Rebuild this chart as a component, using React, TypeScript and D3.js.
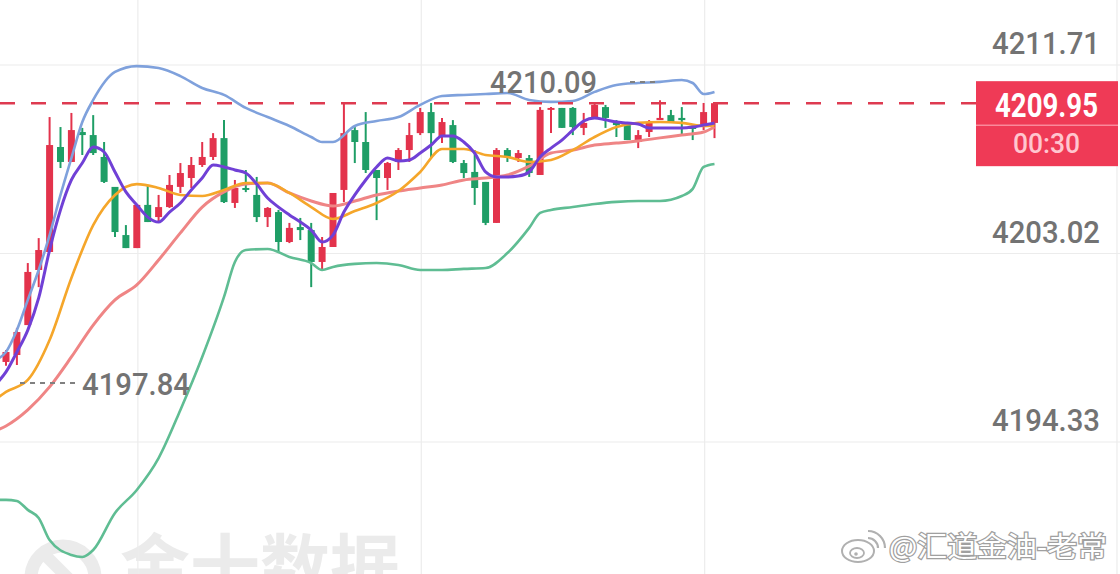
import React from "react";
import * as d3 from "d3";

const W = 1120;
const H = 574;

// OHLC per bar
const opens = [4198.02, 4198.34, 4199.72, 4202.26, 4203.09, 4207.93, 4207.24, 4208.62, 4208.48, 4207.47, 4206.09, 4203.87, 4203.27, 4205.26, 4204.70, 4205.16, 4206.09, 4206.50, 4207.10, 4207.47, 4208.34, 4205.35, 4206.04, 4205.72, 4204.70, 4204.93, 4203.55, 4204.24, 4204.10, 4202.63, 4203.32, 4205.95, 4208.71, 4208.16, 4206.87, 4206.50, 4207.24, 4207.79, 4208.57, 4209.54, 4208.39, 4208.94, 4207.19, 4206.78, 4206.32, 4204.43, 4207.79, 4207.42, 4207.42, 4206.64, 4209.64, 4209.73, 4209.73, 4208.81, 4209.31, 4209.77, 4209.08, 4208.94, 4208.16, 4208.62, 4209.17, 4209.40, 4209.27, 4208.85, 4208.85, 4209.04];
const highs = [4198.57, 4199.59, 4202.58, 4203.73, 4209.31, 4208.85, 4209.50, 4208.81, 4209.40, 4208.16, 4206.09, 4204.33, 4205.26, 4206.18, 4205.72, 4206.64, 4207.19, 4207.47, 4208.16, 4208.57, 4209.17, 4206.41, 4206.87, 4206.55, 4205.16, 4205.03, 4204.43, 4204.66, 4204.43, 4203.78, 4205.81, 4209.96, 4208.85, 4209.54, 4206.87, 4207.24, 4207.88, 4209.04, 4209.73, 4209.96, 4209.27, 4209.17, 4207.33, 4207.79, 4206.32, 4207.88, 4207.88, 4207.79, 4207.56, 4209.77, 4209.77, 4209.73, 4209.77, 4209.50, 4209.96, 4209.87, 4209.17, 4208.94, 4208.71, 4209.17, 4210.09, 4209.64, 4209.77, 4208.94, 4209.96, 4209.95];
const lows = [4197.84, 4197.88, 4199.72, 4201.47, 4203.09, 4206.96, 4207.24, 4207.56, 4207.56, 4206.27, 4203.78, 4203.27, 4203.27, 4204.47, 4204.43, 4205.12, 4205.81, 4206.04, 4207.01, 4207.33, 4205.35, 4205.12, 4205.85, 4204.47, 4204.24, 4203.09, 4203.50, 4203.64, 4201.47, 4202.26, 4203.32, 4205.39, 4207.19, 4206.73, 4204.56, 4205.95, 4206.87, 4207.24, 4208.48, 4207.42, 4208.11, 4207.19, 4206.50, 4205.26, 4204.33, 4204.43, 4207.24, 4207.24, 4206.55, 4206.64, 4208.57, 4208.81, 4208.48, 4208.48, 4209.31, 4208.81, 4208.39, 4208.25, 4207.88, 4208.39, 4209.17, 4209.04, 4208.48, 4208.25, 4208.71, 4208.34];
const closes = [4198.48, 4199.40, 4202.17, 4203.18, 4208.02, 4207.24, 4208.71, 4208.48, 4207.65, 4206.32, 4204.01, 4203.27, 4205.26, 4204.47, 4205.16, 4206.18, 4206.73, 4207.10, 4207.47, 4208.34, 4205.39, 4206.04, 4205.95, 4204.70, 4205.12, 4203.55, 4204.20, 4204.10, 4202.63, 4203.32, 4205.81, 4208.57, 4208.16, 4206.87, 4206.50, 4207.19, 4207.79, 4208.48, 4209.54, 4208.57, 4209.08, 4207.24, 4206.73, 4206.04, 4204.43, 4207.79, 4207.47, 4207.65, 4206.73, 4209.64, 4209.73, 4208.81, 4208.85, 4209.04, 4209.87, 4209.27, 4208.94, 4208.25, 4208.48, 4209.04, 4209.27, 4209.08, 4209.17, 4208.76, 4209.54, 4209.95];

const axisTicks = [4211.71, 4203.02, 4194.33];
const lastPrice = 4209.95;
const countdown = "00:30";
const highLabel = "4210.09";
const lowLabel = "4197.84";
const gridIdx = [12.1, 38.1, 64.1];

// moving average (purple) – one value per bar, starting one bar before the first
const purpleIdx = d3.range(-1, 66);
const purpleVals = [4196.96, 4197.56, 4198.48, 4199.49, 4200.97, 4203.18, 4205.03, 4206.41, 4207.19, 4207.93, 4207.70, 4206.78, 4205.86, 4205.26, 4204.70, 4204.47, 4204.93, 4205.35, 4205.95, 4206.50, 4207.10, 4207.01, 4206.87, 4206.73, 4206.22, 4205.58, 4205.16, 4204.80, 4204.47, 4204.10, 4203.55, 4203.87, 4204.93, 4205.72, 4206.41, 4207.01, 4207.42, 4207.29, 4207.33, 4207.65, 4208.02, 4208.44, 4208.44, 4208.16, 4207.65, 4206.78, 4206.55, 4206.55, 4206.59, 4206.78, 4207.47, 4207.88, 4208.25, 4208.71, 4209.13, 4209.27, 4209.18, 4209.08, 4209.04, 4208.99, 4208.81, 4208.81, 4208.81, 4208.81, 4208.85, 4208.94, 4209.04];

const evenIdx = [-1, ...d3.range(0, 65, 2), 65];
const orangeVals = [4196.27, 4196.64, 4197.19, 4199.03, 4201.89, 4204.33, 4205.72, 4206.22, 4206.04, 4205.72, 4205.67, 4205.95, 4206.27, 4206.27, 4205.81, 4205.16, 4204.61, 4204.98, 4205.35, 4205.90, 4206.78, 4207.84, 4207.84, 4207.56, 4207.47, 4207.24, 4207.33, 4207.79, 4208.39, 4208.85, 4209.04, 4209.08, 4209.04, 4208.90, 4208.94];
const pinkVals = [4194.84, 4195.07, 4195.81, 4196.87, 4198.25, 4199.72, 4200.88, 4201.57, 4202.72, 4203.97, 4205.16, 4205.86, 4206.22, 4206.27, 4205.81, 4205.44, 4205.21, 4205.44, 4205.72, 4205.90, 4206.04, 4206.18, 4206.41, 4206.50, 4206.64, 4207.05, 4207.65, 4207.79, 4208.02, 4208.11, 4208.21, 4208.35, 4208.48, 4208.62, 4208.85];

const blueIdx = [-1, 0, 1, 2, 3, 4, 5, 6, 7, 8, 10, 12, 14, 16, 18, 20, 22, 24, 26, 28, 29, 30, 32, 34, 36, 38, 40, 42, 44, 46, 48, 50, 52, 54, 56, 58, 60, 62, 63, 64, 65];
const blueVals = [4198.11, 4198.48, 4199.49, 4200.88, 4202.26, 4203.87, 4205.72, 4207.42, 4209.08, 4210.10, 4211.39, 4211.66, 4211.57, 4211.20, 4210.65, 4210.33, 4209.73, 4209.31, 4208.90, 4208.39, 4208.16, 4208.16, 4208.90, 4209.13, 4209.31, 4209.87, 4210.28, 4210.33, 4210.37, 4210.42, 4210.10, 4210.01, 4210.05, 4210.47, 4210.79, 4210.88, 4210.93, 4211.02, 4210.88, 4210.37, 4210.47];

const greenIdx = [-1, 0, 1, 2, 3, 4, 6, 7, 8, 10, 12, 14, 16, 18, 20, 21, 22, 24, 26, 28, 29, 30, 32, 34, 36, 38, 40, 42, 44, 46, 48, 49, 50, 52, 54, 56, 58, 60, 62, 63, 64, 65];
const greenVals = [4191.66, 4191.66, 4191.61, 4191.20, 4190.83, 4189.81, 4189.12, 4189.03, 4189.35, 4191.06, 4192.12, 4193.59, 4195.81, 4198.25, 4201.02, 4202.63, 4203.18, 4203.23, 4202.86, 4202.58, 4202.26, 4202.40, 4202.54, 4202.58, 4202.49, 4202.26, 4202.26, 4202.31, 4202.35, 4203.04, 4204.20, 4204.89, 4205.03, 4205.16, 4205.30, 4205.40, 4205.44, 4205.44, 4205.67, 4206.00, 4207.01, 4207.15];

const UP = "#e3334c";
const DOWN = "#1f9e66";
const FONT = "Roboto, 'Noto Sans', sans-serif";

export default function App() {
  const x = d3.scaleLinear().domain([0, 65]).range([6, 714.5]);
  const y = d3.scaleLinear().domain([4194.33, 4211.71]).range([442, 65]);

  const mkLine = (idx: number[], vals: number[]) =>
    d3
      .line<number>()
      .x((_, i) => x(idx[i]))
      .y((v) => y(v))
      .curve(d3.curveMonotoneX)(vals) || "";

  const bodyW = 7;
  const yLast = y(lastPrice);

  return (
    <div style={{ position: "absolute", left: 0, top: 0, width: W, height: H }}>
      <svg width={W} height={H} style={{ display: "block", background: "#fff" }}>
        {/* watermark */}
        <g>
          <circle cx={63} cy={578} r={32} fill="none" stroke="#ebebeb" strokeWidth={13} />
          <line x1={45} y1={555} x2={80} y2={590} stroke="#ebebeb" strokeWidth={12} />
          <text x={120} y={593} fontFamily="'Noto Sans CJK SC', sans-serif" fontWeight={700} fontSize={70} fill="#ebebeb" textLength={280} lengthAdjust="spacingAndGlyphs">
            金十数据
          </text>
        </g>

        {/* grid */}
        {axisTicks.map((t) => (
          <line key={"h" + t} x1={0} x2={W} y1={y(t)} y2={y(t)} stroke="#ececec" strokeWidth={1.2} />
        ))}
        {gridIdx.map((g) => (
          <line key={"v" + g} x1={x(g)} x2={x(g)} y1={0} y2={H} stroke="#ececec" strokeWidth={1.2} />
        ))}
        <line x1={1117} x2={1117} y1={0} y2={H} stroke="#ececec" strokeWidth={1.2} />

        {/* candles */}
        {opens.map((o, i) => {
          const c = closes[i];
          const up = c >= o;
          const col = up ? UP : DOWN;
          const cx = x(i);
          const top = y(Math.max(o, c));
          const bot = y(Math.min(o, c));
          return (
            <g key={i}>
              <line x1={cx} x2={cx} y1={y(highs[i])} y2={y(lows[i])} stroke={col} strokeWidth={2} />
              <rect x={cx - bodyW / 2} y={top} width={bodyW} height={Math.max(1.8, bot - top)} fill={col} />
            </g>
          );
        })}

        {/* indicator lines */}
        <path d={mkLine(blueIdx, blueVals)} fill="none" stroke="#7fa1dc" strokeWidth={2.6} />
        <path d={mkLine(greenIdx, greenVals)} fill="none" stroke="#5fbd93" strokeWidth={2.6} />
        <path d={mkLine(evenIdx, pinkVals)} fill="none" stroke="#ef8585" strokeWidth={3} />
        <path d={mkLine(evenIdx, orangeVals)} fill="none" stroke="#f5a62a" strokeWidth={2.6} />
        <path d={mkLine(purpleIdx, purpleVals)} fill="none" stroke="#7040d6" strokeWidth={3} />

        {/* last price dashed line */}
        <line x1={0} x2={976} y1={yLast} y2={yLast} stroke="#de3a50" strokeWidth={2.4} strokeDasharray="15 16" />

        {/* high / low markers */}
        <line x1={630} x2={656} y1={82} y2={82} stroke="#808080" strokeWidth={2} strokeDasharray="5 5" />
        <text x={490} y={93} fontFamily={FONT} fontWeight={500} fontSize={32} fill="#737373" textLength={107} lengthAdjust="spacingAndGlyphs">
          {highLabel}
        </text>
        <line x1={20} x2={76} y1={383} y2={383} stroke="#808080" strokeWidth={2} strokeDasharray="5 5" />
        <text x={82} y={395} fontFamily={FONT} fontWeight={500} fontSize={32} fill="#737373" textLength={108} lengthAdjust="spacingAndGlyphs">
          {lowLabel}
        </text>

        {/* axis labels */}
        {axisTicks.map((t) => (
          <text key={"t" + t} x={992} y={y(t) - 11} fontFamily={FONT} fontWeight={500} fontSize={32} fill="#737373" textLength={108} lengthAdjust="spacingAndGlyphs">
            {t.toFixed(2)}
          </text>
        ))}

        {/* last price box */}
        <rect x={976} y={yLast - 22} width={142} height={85} fill="#ef3a56" />
        <line x1={976} x2={1118} y1={yLast + 22} y2={yLast + 22} stroke="#ffb0bc" strokeWidth={1} />
        <text x={995} y={yLast + 14} fontFamily={FONT} fontWeight={700} fontSize={33} fill="#ffffff" textLength={103} lengthAdjust="spacingAndGlyphs">
          {lastPrice.toFixed(2)}
        </text>
        <text x={1013} y={yLast + 50} fontFamily={FONT} fontWeight={500} fontSize={28} fill="#ffc6cf" textLength={67} lengthAdjust="spacingAndGlyphs">
          {countdown}
        </text>

        {/* weibo watermark */}
        <g>
          <ellipse cx={858} cy={551} rx={16} ry={11} fill="#fff" stroke="#b0b0b0" strokeWidth={2} />
          <ellipse cx={857} cy={553} rx={7} ry={5} fill="#fff" stroke="#b0b0b0" strokeWidth={1.8} />
          <circle cx={856} cy={554} r={1.8} fill="#b0b0b0" />
          <path d="M868,538 A10,10 0 0 1 878,548" fill="none" stroke="#b0b0b0" strokeWidth={2.2} />
          <path d="M868,531 A17,17 0 0 1 885,548" fill="none" stroke="#b0b0b0" strokeWidth={2.2} />
          <text x={889} y={557} fontFamily="'Noto Sans CJK SC', sans-serif" fontSize={28} fill="#ffffff" stroke="#a0a0a0" strokeWidth={2.4} paintOrder="stroke" textLength={218} lengthAdjust="spacingAndGlyphs">
            @汇道金油-老常
          </text>
        </g>
      </svg>
    </div>
  );
}
